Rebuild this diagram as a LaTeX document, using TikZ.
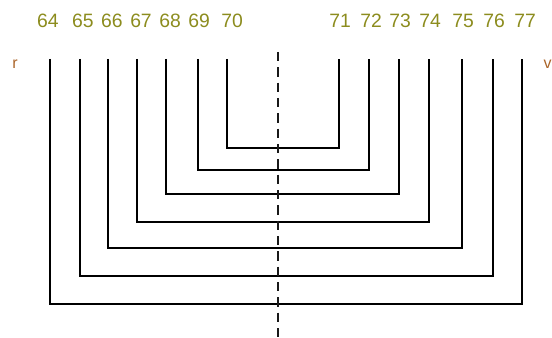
\documentclass[tikz,border=0pt]{standalone}
\usepackage{fontspec}
\setmainfont{Liberation Sans}
\definecolor{lab}{RGB}{140,140,30}
\definecolor{side}{RGB}{170,100,40}
\begin{document}
\begin{tikzpicture}[x=0.75pt,y=-0.75pt,
  lbl/.style={text=lab,font=\fontsize{14.5}{15}\selectfont,inner sep=0pt},
  sidelbl/.style={text=side,font=\fontsize{12}{13}\selectfont,inner sep=0pt},
  wire/.style={draw=black,line width=0.8pt},
  axis/.style={draw=black!90,line width=1.2pt,dash pattern=on 7pt off 4.5pt}]
\useasboundingbox (0,0) rectangle (552,338);
% labels
\foreach \n/\x in {64/48,65/83,66/112,67/141,68/170,69/199,70/232,71/340,72/371,73/400,74/430,75/463,76/494,77/525}
  \node[lbl] (L\n) at (\x,21) {\n};
\node[sidelbl] (r) at (15,64) {r};
\node[sidelbl,anchor=east] (v) at (552,64) {v};
% top ends of the wires
\foreach \n/\x in {64/50,65/80,66/108,67/137,68/166,69/198,70/227,71/339,72/369,73/399,74/429,75/462,76/493,77/522}
  \coordinate (T\n) at (\x,59);
% bottom levels
\foreach \a/\b/\y in {70/71/148,69/72/170,68/73/194,67/74/222,66/75/248,65/76/276,64/77/304}
  \draw[wire] (T\a) -- (T\a |- 0,\y) -- (T\b |- 0,\y) -- (T\b);
% dashed axis
\coordinate (ax1) at (278,52);
\coordinate (ax2) at (278,338);
\draw[axis] (ax1) -- (ax2);
\end{tikzpicture}
\end{document}
